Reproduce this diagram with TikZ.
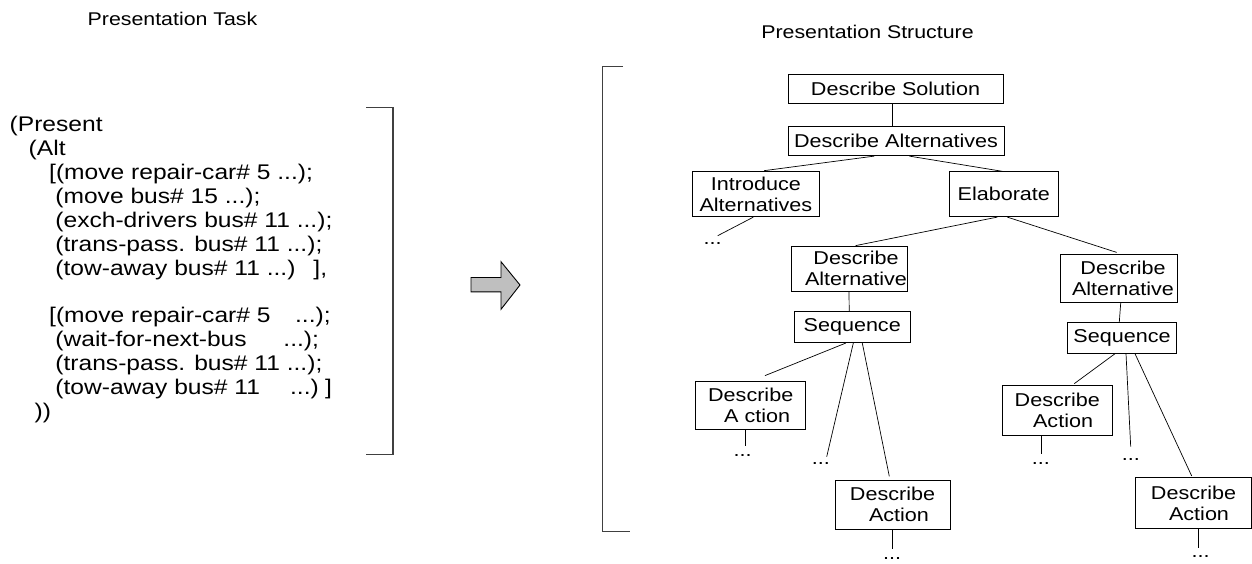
\documentclass[tikz,border=0pt]{standalone}
\usepackage{fontspec}
\setmainfont[FakeStretch=1.16]{Liberation Sans}
\newcommand\codefnt{\fontsize{21.2pt}{23.9pt}\selectfont}
\newcommand\treefnt{\fontsize{18.6pt}{21pt}\selectfont}
\newcommand\titlefnt{\fontsize{18.4pt}{22pt}\selectfont}
\begin{document}
\begin{tikzpicture}[x=1pt,y=-1pt,
  tbox/.style={draw, line width=0.8pt, inner sep=0pt, align=center, font=\treefnt},
  conn/.style={line width=0.7pt},
  dotsn/.style={font=\treefnt, inner sep=0pt, anchor=base},
  code/.style={font=\codefnt, inner sep=0pt, anchor=base west},
  ttl/.style={font=\titlefnt, inner sep=0pt, anchor=base},
  brk/.style={line width=1.2pt, draw=black!75},
  arrowshape/.style={draw, line width=0.9pt, fill=black!25, line join=miter}]
\useasboundingbox (0,0) rectangle (1252,563);

% titles
\node[ttl] (t1) at (172.5,25) {Presentation Task};
\node[ttl] (t2) at (867.5,38) {Presentation Structure};

% code text
\node[code] (c1)  at (9.5,131.7) {(Present};
\node[code] (c2)  at (28.5,155.6) {(Alt};
\node[code] (c3)  at (49,179.5) {[(move repair-car\# 5 ...);};
\node[code] (c4)  at (55.2,203.4) {(move bus\# 15 ...);};
\node[code] (c5)  at (55.2,227.3) {(exch-drivers bus\# 11 ...);};
\node[code] (c6)  at (55.2,251.2) {(trans-pass. bus\# 11 ...);};
\node[code] (c7)  at (55.2,275.1) {\makebox[258.1pt][l]{(tow-away bus\# 11 ...)}],};
\node[code] (c8)  at (49,322.9) {\makebox[246pt][l]{[(move repair-car\# 5}...);};
\node[code] (c9)  at (55.2,346.8) {\makebox[228.1pt][l]{(wait-for-next-bus}...);};
\node[code] (c10) at (55.2,370.7) {(trans-pass. bus\# 11 ...);};
\node[code] (c11) at (55.2,394.6) {\makebox[234.8pt][l]{(tow-away bus\# 11}\makebox[35pt][l]{...)}]};
\node[code] (c12) at (34.5,418.5) {))};

% brackets
\draw[brk] (366,107.7) -- (393,107.7) -- (393,454.3) -- (366,454.3);
\draw[brk] (623,66.3) -- (602.3,66.3) -- (602.3,531.7) -- (630,531.7);

% block arrow
\draw[arrowshape] (471,277.5) -- (501,277.5) -- (501,261.7) -- (520,285) -- (501,309.3) -- (501,291.9) -- (471,291.9) -- cycle;

% tree boxes
\node[tbox, minimum width=215pt, minimum height=29pt] (ds) at (895.5,88.7) {Describe Solution};
\node[tbox, minimum width=216pt, minimum height=29pt] (da) at (896,141.2) {Describe Alternatives};
\node[tbox, minimum width=126.3pt, minimum height=45.7pt] (ia) at (755.9,193.9) {Introduce\\Alternatives};
\node[tbox, minimum width=109pt, minimum height=45pt] (elab) at (1003.8,194.2) {Elaborate};
\node[tbox, minimum width=115.6pt, minimum height=45pt] (dall) at (849.5,268.5) {\hspace*{13pt}Describe\\\hspace*{13pt}Alternative};
\node[tbox, minimum width=116.6pt, minimum height=48.4pt] (dalr) at (1119,278.5) {\hspace*{8pt}Describe\\\hspace*{8pt}Alternative};
\node[tbox, minimum width=115.7pt, minimum height=31pt] (seql) at (852.2,327.2) {Sequence};
\node[tbox, minimum width=109.4pt, minimum height=31pt] (seqr) at (1122,337.8) {Sequence};
\node[tbox, minimum width=110pt, minimum height=48pt] (dacl) at (750.7,405) {Describe\\\hspace*{13pt}A ction};
\node[tbox, minimum width=115pt, minimum height=49.3pt] (dacm) at (892.5,504.7) {Describe\\\hspace*{13pt}Action};
\node[tbox, minimum width=110pt, minimum height=50pt] (dacr1) at (1057.3,410) {Describe\\\hspace*{11.5pt}Action};
\node[tbox, minimum width=115.5pt, minimum height=50.6pt] (dacr2) at (1193.5,503) {Describe\\\hspace*{11pt}Action};

% dots
\node[dotsn] (d0) at (712.5,244.6) {...};
\node[dotsn] (dl) at (742.5,456.3) {...};
\node[dotsn] (dm) at (820.8,464) {...};
\node[dotsn] (dmb) at (892,559) {...};
\node[dotsn] (dr1) at (1040.8,464) {...};
\node[dotsn] (drm) at (1130.8,460.6) {...};
\node[dotsn] (dr2) at (1200.5,557.3) {...};

% free ends
\coordinate (e0) at (717.7,235.7);
\coordinate (el) at (745.7,445.7);
\coordinate (em) at (826.7,456.7);
\coordinate (emb) at (892.7,549.3);
\coordinate (er1) at (1041,454);
\coordinate (erm) at (1130.7,446.7);
\coordinate (er2) at (1198.3,548.3);

% connectors
\draw[conn] ([xshift=-3.5pt]ds.south) -- ([xshift=-4pt]da.north);
\draw[conn] ([xshift=-21.7pt]da.south) -- ([xshift=8.3pt]ia.north);
\draw[conn] ([xshift=13.3pt]da.south) -- ([xshift=-1.5pt]elab.north);
\draw[conn] ([xshift=-2.6pt]ia.south) -- (e0);
\draw[conn] ([xshift=-6.5pt]elab.south) -- ([xshift=6.2pt]dall.north);
\draw[conn] ([xshift=3.5pt]elab.south) -- ([xshift=-2.3pt,yshift=1.5pt]dalr.north);
\draw[conn] ([xshift=-0.5pt]dall.south) -- ([xshift=-3pt]seql.north);
\draw[conn] ([xshift=1.7pt]dalr.south) -- ([xshift=-2.7pt]seqr.north);
\draw[conn] ([xshift=-6.5pt]seql.south) -- ([xshift=14.3pt,yshift=5pt]dacl.north);
\draw[conn] ([xshift=1.1pt]seql.south) -- (em);
\draw[conn] ([xshift=10.1pt]seql.south) -- ([xshift=-3.2pt,yshift=3.3pt]dacm.north);
\draw[conn] ([xshift=-5pt]dacl.south) -- (el);
\draw[conn] ([xshift=0.2pt]dacm.south) -- (emb);
\draw[conn] ([xshift=-7pt]seqr.south) -- ([xshift=17pt,yshift=1pt]dacr1.north);
\draw[conn] ([xshift=4pt]seqr.south) -- (erm);
\draw[conn] ([xshift=13pt]seqr.south) -- ([xshift=-1.8pt,yshift=1.3pt]dacr2.north);
\draw[conn] ([xshift=-16.3pt]dacr1.south) -- (er1);
\draw[conn] ([xshift=4.8pt]dacr2.south) -- (er2);
\end{tikzpicture}
\end{document}
